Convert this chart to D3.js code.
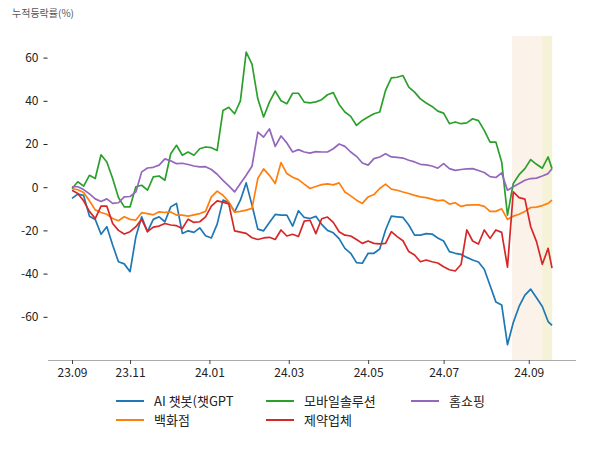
<!DOCTYPE html>
<html>
<head>
<meta charset="utf-8">
<script src="https://cdn.jsdelivr.net/npm/d3@7"></script>
<style>
  body { margin: 0; background: #fff; }
  text { font-family: "Noto Sans CJK KR", "Noto Sans", sans-serif; }
</style>
</head>
<body>
<script>
const width = 600;
const height = 450;

// trading-day index of each sample
const days = [0, 3, 6, 9, 12, 15, 18, 21, 24, 27, 30, 33, 36, 39, 42, 45, 48, 51, 54, 57,
  60, 63, 66, 69, 72, 75, 78, 81, 84, 87, 90, 93, 96, 99, 102, 105, 108, 111, 114, 117,
  120, 123, 126, 129, 132, 135, 138, 141, 144, 147, 150, 153, 156, 159, 162, 165, 168, 171, 174, 177,
  180, 183, 186, 189, 192, 195, 198, 201, 204, 207, 210, 213, 216, 219, 222, 225, 228, 231, 234, 237,
  240, 243, 246, 248];

const aiChatbot = [-5.2, -3.2, -3.8, -13.4, -14.9, -21.8, -18.3, -26.8, -34.5, -35.5, -39.1, -22.9, -13.7, -20.6, -14.9, -13.7, -16, -9.1, -7.5, -21.4,
  -20.2, -20.9, -18.8, -22.5, -23.5, -17.1, -6, -7.1, -11.4, -6, 2, -8.3, -19.4, -20.2, -16.3, -12.6, -12.9, -12.9, -18, -10.9,
  -14, -14.5, -13.5, -17.2, -20, -21.1, -23.8, -28.3, -30.6, -34.9, -35.2, -30.6, -30.6, -28.6, -19.8, -13.4, -13.7, -14, -17.5, -22.2,
  -22.2, -21.5, -21.7, -23.5, -24.9, -29.8, -30.6, -31.1, -32.5, -33.7, -34.6, -38, -45.5, -53.1, -54.5, -72.9, -62.6, -55.2, -50, -47.2,
  -51.2, -55.2, -62.2, -64];

const deptStore = [-0.6, -1.2, -2.5, -6.3, -10.5, -11.7, -12.5, -14.5, -15.5, -13.7, -14.9, -15.2, -11.8, -12.2, -12.8, -11.4, -11.7, -11.5, -12.9, -12.9,
  -13.4, -12.8, -12.2, -11.2, -4.5, -1.8, -3.7, -6.8, -11.5, -11.2, -10.6, -9.8, 4, 8.5, 5.5, 1.7, 11.4, 6.3, 4.6, 3.5,
  1.4, -0.6, 0.3, 1.2, 1.5, 1.1, 2, -2.2, -4, -6, -7.5, -4.5, -3.4, -0.6, 1.4, -0.9, -1.4, -2.2, -2.9, -3.8,
  -4.5, -4.8, -5.5, -6.2, -6, -7.8, -7.2, -8.9, -8.3, -8.2, -8.2, -8.9, -11.2, -11.2, -10, -14.9, -13.4, -12.5, -11.2, -9.4,
  -9.2, -8.5, -7.5, -6];

const mobileSolution = [-0.6, 2.5, 0.5, 5.5, 4, 15, 11.7, 4, -4.8, -9.1, -9.1, 0.2, 0.9, -1.4, 4.8, 5.2, 3.2, 15.5, 19.4, 14.8,
  16.3, 14.8, 17.8, 18.6, 18.3, 17, 35.5, 37, 34, 40, 62.5, 57, 40.9, 32.5, 39.4, 44.5, 40, 38.6, 43.5, 43.5,
  39.4, 39, 39.5, 40.5, 42.8, 43.8, 38.3, 34.8, 32.8, 28.6, 30.9, 32.5, 34, 34.8, 44.8, 50.6, 50.9, 51.7, 46.3, 44,
  40.9, 39, 37.4, 35.2, 34.3, 29.4, 30.2, 29.4, 29.8, 31.7, 30.8, 26.3, 20.9, 20.9, 11.7, -12.9, 1.7, 5.8, 8.6, 12.8,
  10.6, 8.8, 14, 8.6];

const pharma = [-1.4, -2.9, -6.3, -11.2, -14.5, -8.8, -8.8, -16.8, -20, -21.7, -20.6, -18.3, -14.9, -20.6, -18.5, -18, -16.8, -17.5, -17.8, -19.1,
  -14.8, -16.3, -16, -13.7, -8.8, -6.3, -6.9, -7.7, -20.2, -20.8, -21.4, -23.4, -24.2, -23.5, -23.2, -24.2, -19.8, -22.6, -21.8, -22.8,
  -15.7, -15.3, -21.5, -14.6, -13.8, -16.3, -20.6, -22.2, -22.6, -24.2, -26, -24.9, -26, -26.2, -26, -20.6, -22.9, -24.8, -29.8, -31.4,
  -34.5, -33.7, -34.5, -35.1, -36.8, -38.2, -38.8, -35.8, -19.8, -24.9, -26.3, -19.8, -23.7, -19.8, -20.9, -37, -2.2, -4.8, -5.5, -18.3,
  -25.2, -35.7, -28.3, -37.5];

const homeShopping = [0.2, 0.2, -1.1, -3.1, -5.4, -6.6, -5.4, -7.5, -7.2, -4.5, -4.3, -2.2, 7.1, 8.9, 9.2, 10.2, 13.1, 12.2, 10.9, 11.1,
  10.5, 9.8, 9.4, 9.5, 8.2, 6, 3.2, 0.6, -2.2, 1.7, 5.5, 9.7, 25.5, 23.2, 27, 18.9, 23.7, 20.5, 16.3, 17.4,
  16.3, 15.8, 16.5, 16.3, 16.3, 17.8, 20, 18.9, 16.3, 14.3, 11.2, 10.2, 13.2, 14, 15.5, 14, 13.8, 13.5, 12.5, 11.7,
  10.6, 10.3, 9.8, 8.8, 10.9, 8.6, 7.8, 8.2, 8.5, 8.6, 7.7, 6.8, 4.9, 4.5, 6.6, -1.4, 0.2, 1.7, 3.2, 4,
  4.2, 5.2, 6.3, 8.6];

const seriesNames = ["AI 챗봇(챗GPT", "백화점", "모바일솔루션", "제약업체", "홈쇼핑"];
const seriesValues = [aiChatbot, deptStore, mobileSolution, pharma, homeShopping];
const seriesColors = ["#1f77b4", "#ff7f0e", "#2ca02c", "#d62728", "#9467bd"];

const xTickDays = [0, 30, 71, 112, 153, 192, 236];
const xTickLabels = ["23.09", "23.11", "24.01", "24.03", "24.05", "24.07", "24.09"];
const yTicks = [-60, -40, -20, 0, 20, 40, 60];

// highlighted periods (trading-day index)
const bandStarts = [227.4, 242.9];
const bandEnds = [242.9, 248.1];
const bandColors = ["#fbf2e9", "#f5f2d8"];

const plot = { left: 48, right: 576, top: 36, bottom: 360 };

const pad = (d3.max(days) - d3.min(days)) * 0.05;
const x = d3.scaleLinear()
  .domain([d3.min(days) - pad, d3.max(days) + pad])
  .range([plot.left, plot.right]);

const y = d3.scaleLinear()
  .domain([-80, 70])
  .range([plot.bottom, plot.top]);

const svg = d3.select("body")
  .append("svg")
  .attr("width", width)
  .attr("height", height);

// shaded periods
svg.selectAll(".band")
  .data(bandStarts)
  .enter()
  .append("rect")
  .attr("class", "band")
  .attr("x", function (d) { return x(d); })
  .attr("width", function (d, i) { return x(bandEnds[i]) - x(d); })
  .attr("y", plot.top)
  .attr("height", plot.bottom - plot.top)
  .attr("fill", function (d, i) { return bandColors[i]; });

// y axis: ticks only, no spine
const yAxis = svg.append("g")
  .attr("transform", "translate(" + (plot.left - 0.5) + ",0)")
  .call(d3.axisLeft(y).tickValues(yTicks).tickSize(4).tickPadding(5)
    .tickFormat(function (d) { return String(d); }));
yAxis.select(".domain").remove();
yAxis.selectAll("text").attr("font-size", 12).attr("fill", "#222");
yAxis.selectAll("line").attr("stroke", "#222");

// x axis
const xAxis = svg.append("g")
  .attr("transform", "translate(0," + plot.bottom + ")")
  .call(d3.axisBottom(x).tickValues(xTickDays).tickSize(4).tickPadding(4)
    .tickFormat(function (d, i) { return xTickLabels[i]; }));
xAxis.select(".domain").attr("stroke", "#aaa").attr("d", "M" + plot.left + ",0.5H" + plot.right);
xAxis.selectAll("text").attr("font-size", 12).attr("fill", "#222");
xAxis.selectAll("line").attr("stroke", "#444");

const line = d3.line()
  .x(function (d) { return x(d[0]); })
  .y(function (d) { return y(d[1]); });

svg.selectAll(".series")
  .data(seriesValues)
  .enter()
  .append("path")
  .attr("class", "series")
  .attr("fill", "none")
  .attr("stroke", function (d, i) { return seriesColors[i]; })
  .attr("stroke-width", 1.7)
  .attr("stroke-linejoin", "round")
  .attr("d", function (vals) {
    return line(vals.map(function (v, i) { return [days[i], v]; }));
  });

// title
svg.append("text")
  .attr("x", 12)
  .attr("y", 17)
  .attr("font-size", 10)
  .attr("fill", "#555")
  .text("누적등락률(%)");

// legend, 3 columns, filled column by column
const colX = [116, 266, 411];
const rowY = [401, 420];
const legend = svg.selectAll(".legend")
  .data(seriesNames)
  .enter()
  .append("g")
  .attr("class", "legend")
  .attr("transform", function (d, i) {
    return "translate(" + colX[Math.floor(i / 2)] + "," + rowY[i % 2] + ")";
  });

legend.append("line")
  .attr("x1", 0)
  .attr("x2", 28)
  .attr("stroke", function (d, i) { return seriesColors[i]; })
  .attr("stroke-width", 2);

legend.append("text")
  .attr("x", 38)
  .attr("dy", "0.35em")
  .attr("font-size", 13)
  .attr("fill", "#222")
  .text(function (d) { return d; });
</script>
</body>
</html>
